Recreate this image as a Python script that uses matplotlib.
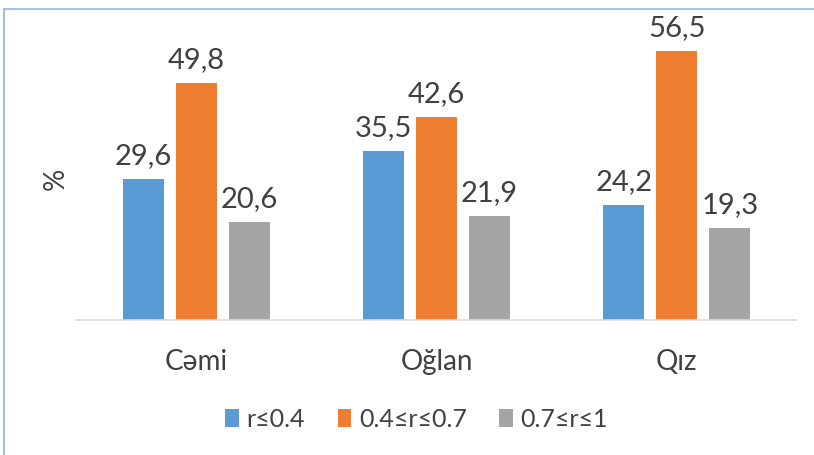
import matplotlib.pyplot as plt
import numpy as np
from matplotlib.patches import Rectangle

plt.rcParams['font.family'] = ['Lato', 'DejaVu Sans']

categories = ["Cəmi", "Oğlan", "Qız"]
series_names = ["r≤0.4", "0.4≤r≤0.7", "0.7≤r≤1"]
values = {
    "r≤0.4": [29.6, 35.5, 24.2],
    "0.4≤r≤0.7": [49.8, 42.6, 56.5],
    "0.7≤r≤1": [20.6, 21.9, 19.3],
}
colors = ["#5B9BD5", "#ED7D31", "#A5A5A5"]
text_color = "#404040"

fig = plt.figure(figsize=(8.14, 4.56), dpi=100)
ax = fig.add_axes([0.0934, 0.296, 0.8857, 0.682])

x = np.arange(len(categories))
width = 0.171
step = 0.221
for i, name in enumerate(series_names):
    pos = x + (i - 1) * step
    bars = ax.bar(pos, values[name], width, color=colors[i], label=name)
    for b, v in zip(bars, values[name]):
        ax.annotate(f"{v:.1f}".replace(".", ","), (b.get_x() + b.get_width() / 2, v),
                    xytext=(0, 8), textcoords="offset points",
                    ha="center", va="bottom", fontsize=21, color=text_color)

ax.set_xlim(-0.5, 2.5)
ax.set_ylim(0, 65.3)
ax.set_yticks([])
ax.set_xticks(x)
ax.set_xticklabels(categories, fontsize=20, color=text_color)
ax.tick_params(axis="x", length=0, pad=20)
for s in ["top", "right", "left"]:
    ax.spines[s].set_visible(False)
ax.spines["bottom"].set_color("#d9d9d9")
ax.spines["bottom"].set_linewidth(1.2)
ax.set_ylabel("%", fontsize=20, color=text_color)
ax.yaxis.set_label_coords(-0.01, 0.457)

fig.legend(loc="center", bbox_to_anchor=(0.512, 0.079), ncol=3, frameon=False,
           fontsize=18, handlelength=0.55, handleheight=0.75, handletextpad=0.3,
           columnspacing=1.3, labelcolor=text_color)

# outer chart border (top and left edges visible)
fig.patches.append(Rectangle((0.005, -0.1), 1.2, 1.078, transform=fig.transFigure,
                             fill=False, edgecolor="#9DC3E6", linewidth=1.5))

fig.savefig("out.png", dpi=100)
